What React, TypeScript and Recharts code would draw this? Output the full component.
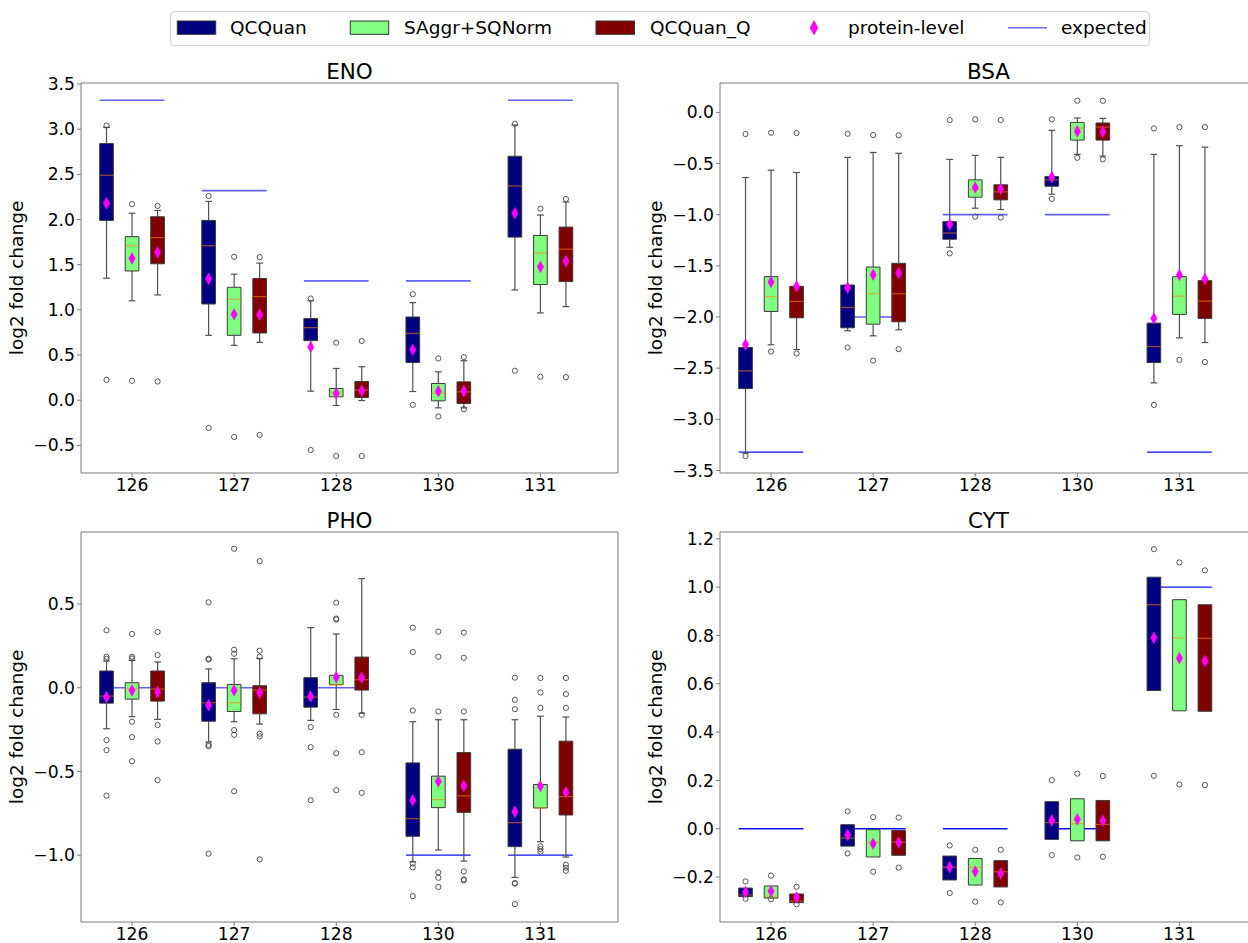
import React from 'react';
import { ComposedChart, XAxis, YAxis, ReferenceArea, ReferenceLine, Scatter } from 'recharts';

const FONT = '"DejaVu Sans", "Liberation Sans", sans-serif';

// ---------- shared categories / series ----------
const CATEGORIES = ['126', '127', '128', '130', '131'];
const CATEGORY_POS = [1, 2, 3, 4, 5];
const SERIES_NAMES = ['QCQuan', 'SAggr+SQNorm', 'QCQuan_Q'];
const SERIES_COLORS = ['#000080', '#80ff80', '#800000'];
const SERIES_OFFSETS = [-0.25, 0, 0.25];
const MEAN_LABEL = 'protein-level';
const EXPECTED_LABEL = 'expected';
const Y_LABEL = 'log2 fold change';

// box tuples: [whiskerLow, q1, median, q3, whiskerHigh] per category
// ---------- ENO ----------
const ENO_QCQUAN_BOX = [
  [1.35, 1.99, 2.49, 2.84, 3.02],
  [0.718, 1.065, 1.71, 1.99, 2.2],
  [0.1, 0.659, 0.803, 0.903, 1.1],
  [0.096, 0.418, 0.74, 0.921, 1.08],
  [1.22, 1.805, 2.37, 2.7, 3.045],
];
const ENO_SAGGR_BOX = [
  [1.1, 1.43, 1.71, 1.81, 2.07],
  [0.607, 0.718, 1.117, 1.25, 1.395],
  [-0.059, 0.037, 0.089, 0.13, 0.351],
  [-0.085, -0.007, 0.074, 0.185, 0.314],
  [0.966, 1.28, 1.628, 1.824, 2.05],
];
const ENO_QCQUANQ_BOX = [
  [1.165, 1.51, 1.8, 2.03, 2.1],
  [0.64, 0.744, 1.147, 1.347, 1.517],
  [-0.004, 0.03, 0.111, 0.207, 0.37],
  [-0.085, -0.037, 0.092, 0.203, 0.437],
  [1.036, 1.313, 1.672, 1.916, 2.194],
];
const ENO_QCQUAN_OUT = [[3.04, 0.226], [2.26, -0.307], [1.125, -0.551], [1.173, -0.052], [3.06, 0.326]];
const ENO_SAGGR_OUT = [[2.17, 0.215], [1.587, -0.407], [0.636, -0.618], [0.462, -0.181], [2.12, 0.259]];
const ENO_QCQUANQ_OUT = [[2.15, 0.207], [1.583, -0.385], [0.655, -0.618], [0.477, -0.1], [2.227, 0.255]];
const ENO_QCQUAN_MEAN = [2.18, 1.343, 0.588, 0.559, 2.07];
const ENO_SAGGR_MEAN = [1.57, 0.951, 0.074, 0.1, 1.476];
const ENO_QCQUANQ_MEAN = [1.635, 0.947, 0.104, 0.1, 1.539];
const ENO_EXPECTED = [3.32, 2.32, 1.32, 1.32, 3.32];
const ENO_Y_TICKS = [-0.5, 0, 0.5, 1, 1.5, 2, 2.5, 3, 3.5];

// ---------- BSA ----------
const BSA_QCQUAN_BOX = [
  [-3.33, -2.7, -2.527, -2.298, -0.637],
  [-2.135, -2.106, -1.907, -1.688, -0.44],
  [-1.319, -1.24, -1.179, -1.068, -0.46],
  [-0.8, -0.722, -0.66, -0.627, -0.176],
  [-2.644, -2.445, -2.289, -2.06, -0.411],
];
const BSA_SAGGR_BOX = [
  [-2.272, -1.946, -1.8, -1.606, -0.565],
  [-2.184, -2.07, -1.773, -1.512, -0.392],
  [-0.937, -0.829, -0.754, -0.66, -0.421],
  [-0.411, -0.271, -0.153, -0.098, -0.055],
  [-2.204, -1.975, -1.796, -1.606, -0.326],
];
const BSA_QCQUANQ_BOX = [
  [-2.318, -2.008, -1.848, -1.7, -0.588],
  [-2.125, -2.047, -1.773, -1.476, -0.4],
  [-0.95, -0.855, -0.777, -0.708, -0.44],
  [-0.428, -0.271, -0.144, -0.104, -0.059],
  [-2.25, -2.014, -1.845, -1.645, -0.34],
];
const BSA_QCQUAN_OUT = [[-0.212, -3.36], [-0.209, -2.298], [-0.075, -1.378], [-0.069, -0.846], [-0.157, -2.86]];
const BSA_SAGGR_OUT = [[-0.199, -2.338], [-0.222, -2.426], [-0.069, -1.019], [0.114, -0.444], [-0.144, -2.42]];
const BSA_QCQUANQ_OUT = [[-0.202, -2.357], [-0.225, -2.315], [-0.075, -1.028], [0.114, -0.46], [-0.144, -2.44]];
const BSA_QCQUAN_MEAN = [-2.27, -1.714, -1.094, -0.633, -2.014];
const BSA_SAGGR_MEAN = [-1.658, -1.587, -0.735, -0.186, -1.59];
const BSA_QCQUANQ_MEAN = [-1.7, -1.57, -0.748, -0.189, -1.629];
const BSA_EXPECTED = [-3.32, -2.0, -1.0, -1.0, -3.32];
const BSA_Y_TICKS = [-3.5, -3, -2.5, -2, -1.5, -1, -0.5, 0];

// ---------- PHO ----------
const PHO_QCQUAN_BOX = [
  [-0.245, -0.092, -0.05, 0.1, 0.16],
  [-0.323, -0.2, -0.09, 0.03, 0.112],
  [-0.195, -0.116, -0.056, 0.06, 0.359],
  [-1.04, -0.887, -0.782, -0.449, -0.203],
  [-1.133, -0.949, -0.806, -0.367, -0.191],
];
const PHO_SAGGR_BOX = [
  [-0.173, -0.068, -0.004, 0.03, 0.163],
  [-0.203, -0.142, -0.09, 0.02, 0.173],
  [-0.13, 0.018, 0.018, 0.074, 0.321],
  [-0.969, -0.716, -0.668, -0.528, -0.191],
  [-0.919, -0.718, -0.718, -0.578, -0.17],
];
const PHO_QCQUANQ_BOX = [
  [-0.189, -0.08, -0.008, 0.1, 0.154],
  [-0.217, -0.156, -0.014, 0.012, 0.175],
  [-0.152, -0.014, 0.048, 0.183, 0.652],
  [-1.035, -0.744, -0.646, -0.387, -0.191],
  [-1.011, -0.76, -0.65, -0.319, -0.175],
];
const PHO_QCQUAN_OUT = [
  [0.185, 0.173, 0.343, -0.313, -0.373, -0.644],
  [0.173, 0.168, 0.51, -0.341, -0.349, -0.991],
  [-0.235, -0.355, -0.672],
  [-0.136, 0.213, 0.359, -1.05, -1.073, -1.244],
  [-0.128, -0.072, 0.06, -1.166, -1.17, -1.292],
];
const PHO_SAGGR_OUT = [
  [0.185, 0.175, 0.321, -0.203, -0.295, -0.439],
  [0.227, 0.203, 0.83, -0.253, -0.281, -0.618],
  [0.413, 0.407, 0.508, -0.162, -0.391, -0.612],
  [-0.142, 0.185, 0.335, -1.103, -1.135, -1.19],
  [-0.12, -0.028, 0.058, -0.947, -0.963, -0.979],
];
const PHO_QCQUANQ_OUT = [
  [0.195, 0.333, -0.223, -0.321, -0.552],
  [0.221, 0.185, 0.756, -0.275, -0.291, -1.025],
  [-0.162, -0.385, -0.628],
  [-0.142, 0.179, 0.329, -1.097, -1.145, -1.15],
  [-0.12, -0.038, 0.058, -1.057, -1.075, -1.093],
];
const PHO_QCQUAN_MEAN = [-0.056, -0.104, -0.052, -0.672, -0.74];
const PHO_SAGGR_MEAN = [-0.016, -0.016, 0.062, -0.56, -0.588];
const PHO_QCQUANQ_MEAN = [-0.026, -0.03, 0.06, -0.586, -0.624];
const PHO_EXPECTED = [0, 0, 0, -1, -1];
const PHO_Y_TICKS = [-1, -0.5, 0, 0.5];

// ---------- CYT ----------
const CYT_QCQUAN_BOX = [
  [-0.281, -0.281, -0.274, -0.2455, -0.2455],
  [-0.072, -0.072, -0.039, 0.0166, 0.0166],
  [-0.212, -0.212, -0.159, -0.113, -0.113],
  [-0.044, -0.044, 0.025, 0.112, 0.112],
  [0.572, 0.572, 0.927, 1.041, 1.041],
];
const CYT_SAGGR_BOX = [
  [-0.287, -0.287, -0.279, -0.237, -0.237],
  [-0.117, -0.117, -0.055, -0.004, -0.004],
  [-0.233, -0.233, -0.16, -0.123, -0.123],
  [-0.05, -0.05, 0.021, 0.124, 0.124],
  [0.488, 0.488, 0.79, 0.948, 0.948],
];
const CYT_QCQUANQ_BOX = [
  [-0.306, -0.306, -0.299, -0.27, -0.27],
  [-0.11, -0.11, -0.055, -0.007, -0.007],
  [-0.241, -0.241, -0.178, -0.132, -0.132],
  [-0.05, -0.05, 0.018, 0.117, 0.117],
  [0.486, 0.486, 0.788, 0.927, 0.927],
];
const CYT_QCQUAN_OUT = [[-0.218, -0.29], [0.072, -0.102], [-0.069, -0.266], [0.201, -0.109], [1.157, 0.219]];
const CYT_SAGGR_OUT = [[-0.194, -0.292], [0.048, -0.178], [-0.087, -0.302], [0.228, -0.119], [1.102, 0.183]];
const CYT_QCQUANQ_OUT = [[-0.24, -0.313], [0.046, -0.161], [-0.087, -0.305], [0.218, -0.116], [1.069, 0.181]];
const CYT_QCQUAN_MEAN = [-0.262, -0.025, -0.159, 0.034, 0.79];
const CYT_SAGGR_MEAN = [-0.259, -0.062, -0.177, 0.039, 0.706];
const CYT_QCQUANQ_MEAN = [-0.284, -0.057, -0.185, 0.033, 0.694];
const CYT_EXPECTED = [0, 0, 0, 0, 1];
const CYT_Y_TICKS = [-0.2, 0, 0.2, 0.4, 0.6, 0.8, 1.0, 1.2];

// ---------- styles / layout ----------
const EXP_LIGHT = { stroke: '#6262ff', width: 1.7 };
const EXP_DARK = { stroke: '#1010f0', width: 1.3 };
const ENO_EXP_STYLE = [EXP_LIGHT, EXP_LIGHT, EXP_LIGHT, EXP_LIGHT, EXP_LIGHT];
const BSA_EXP_STYLE = [EXP_DARK, EXP_LIGHT, EXP_LIGHT, EXP_LIGHT, EXP_DARK];
const PHO_EXP_STYLE = [EXP_LIGHT, EXP_LIGHT, EXP_LIGHT, EXP_DARK, EXP_DARK];
const CYT_EXP_STYLE = [EXP_DARK, EXP_DARK, EXP_DARK, EXP_DARK, EXP_DARK];

const X_DOMAIN = [0.5, 5.76];
const BOX_HALF = 0.067;
const CAP_HALF = 0.033;
const EXP_HALF = 0.317;
const Y_AXIS_W = 81;
const PLOT_W = 537;
const PLOT_H = 390;
const M_TOP = 83;
const M_RIGHT = 10;
const X_AXIS_H = 40;
const CHART_W = Y_AXIS_W + PLOT_W + M_RIGHT;
const CHART_H = M_TOP + PLOT_H + X_AXIS_H;
const COL_LEFT = [0, 639];
const ROW_TOP = [0, 449];
const TICK_FONT = 17.2;
const WHISKER_COLOR = '#505050';
const FRAME_COLOR = '#7a7a7a';

const PANELS = [
  {
    title: 'ENO', yDomain: [-0.806, 3.511], yTicks: ENO_Y_TICKS, left: COL_LEFT[0], top: ROW_TOP[0],
    boxes: [ENO_QCQUAN_BOX, ENO_SAGGR_BOX, ENO_QCQUANQ_BOX],
    outliers: [ENO_QCQUAN_OUT, ENO_SAGGR_OUT, ENO_QCQUANQ_OUT],
    means: [ENO_QCQUAN_MEAN, ENO_SAGGR_MEAN, ENO_QCQUANQ_MEAN],
    expected: ENO_EXPECTED, expStyle: ENO_EXP_STYLE,
  },
  {
    title: 'BSA', yDomain: [-3.525, 0.287], yTicks: BSA_Y_TICKS, left: COL_LEFT[1], top: ROW_TOP[0],
    boxes: [BSA_QCQUAN_BOX, BSA_SAGGR_BOX, BSA_QCQUANQ_BOX],
    outliers: [BSA_QCQUAN_OUT, BSA_SAGGR_OUT, BSA_QCQUANQ_OUT],
    means: [BSA_QCQUAN_MEAN, BSA_SAGGR_MEAN, BSA_QCQUANQ_MEAN],
    expected: BSA_EXPECTED, expStyle: BSA_EXP_STYLE,
  },
  {
    title: 'PHO', yDomain: [-1.399, 0.93], yTicks: PHO_Y_TICKS, left: COL_LEFT[0], top: ROW_TOP[1],
    boxes: [PHO_QCQUAN_BOX, PHO_SAGGR_BOX, PHO_QCQUANQ_BOX],
    outliers: [PHO_QCQUAN_OUT, PHO_SAGGR_OUT, PHO_QCQUANQ_OUT],
    means: [PHO_QCQUAN_MEAN, PHO_SAGGR_MEAN, PHO_QCQUANQ_MEAN],
    expected: PHO_EXPECTED, expStyle: PHO_EXP_STYLE,
  },
  {
    title: 'CYT', yDomain: [-0.386, 1.228], yTicks: CYT_Y_TICKS, left: COL_LEFT[1], top: ROW_TOP[1],
    boxes: [CYT_QCQUAN_BOX, CYT_SAGGR_BOX, CYT_QCQUANQ_BOX],
    outliers: [CYT_QCQUAN_OUT, CYT_SAGGR_OUT, CYT_QCQUANQ_OUT],
    means: [CYT_QCQUAN_MEAN, CYT_SAGGR_MEAN, CYT_QCQUANQ_MEAN],
    expected: CYT_EXPECTED, expStyle: CYT_EXP_STYLE,
  },
];

const fmtTick = (v: number) => (v < 0 ? '\u2212' : '') + Math.abs(v).toFixed(1);

const OutlierShape = (props: any) => {
  const { cx, cy } = props;
  if (cx == null || cy == null) return null;
  return <circle cx={cx} cy={cy} r={2.6} fill="none" stroke="#444" strokeWidth={0.9} />;
};

const MeanShape = (props: any) => {
  const { cx, cy } = props;
  if (cx == null || cy == null) return null;
  const w = 3.2;
  const h = 5.8;
  return (
    <polygon
      points={`${cx},${cy - h} ${cx + w},${cy} ${cx},${cy + h} ${cx - w},${cy}`}
      fill="#ff00ff"
      stroke="#ff00ff"
      strokeWidth={0.5}
    />
  );
};

function Panel({ panel }: { panel: any }) {
  const items: any[] = [];
  panel.boxes.forEach((seriesBoxes: number[][], s: number) => {
    seriesBoxes.forEach((b: number[], c: number) => {
      items.push({
        key: `${s}-${c}`,
        x: CATEGORY_POS[c] + SERIES_OFFSETS[s],
        low: b[0], q1: b[1], med: b[2], q3: b[3], high: b[4],
        color: SERIES_COLORS[s],
      });
    });
  });
  const outlierPts: any[] = [];
  panel.outliers.forEach((so: number[][], s: number) => {
    so.forEach((list: number[], c: number) => {
      list.forEach((v: number) => outlierPts.push({ x: CATEGORY_POS[c] + SERIES_OFFSETS[s], y: v }));
    });
  });
  const meanPts: any[] = [];
  panel.means.forEach((sm: number[], s: number) => {
    sm.forEach((v: number, c: number) => meanPts.push({ x: CATEGORY_POS[c] + SERIES_OFFSETS[s], y: v }));
  });

  return (
    <div style={{ position: 'absolute', left: panel.left, top: panel.top, width: CHART_W, height: CHART_H }}>
      <ComposedChart width={CHART_W} height={CHART_H} margin={{ top: M_TOP, right: M_RIGHT, bottom: 0, left: 0 }}>
        <XAxis
          type="number"
          dataKey="x"
          domain={X_DOMAIN}
          allowDataOverflow
          ticks={CATEGORY_POS}
          interval={0}
          tickFormatter={(v: number) => CATEGORIES[CATEGORY_POS.indexOf(v)]}
          height={X_AXIS_H}
          axisLine={false}
          tickSize={4}
          tickMargin={2}
          tickLine={{ stroke: FRAME_COLOR }}
          tick={{ fontSize: TICK_FONT, fill: '#000', fontFamily: FONT }}
        />
        <YAxis
          type="number"
          dataKey="y"
          domain={panel.yDomain}
          allowDataOverflow
          ticks={panel.yTicks}
          interval={0}
          tickFormatter={fmtTick}
          width={Y_AXIS_W}
          axisLine={false}
          tickSize={4}
          tickMargin={2}
          tickLine={{ stroke: FRAME_COLOR }}
          tick={{ fontSize: TICK_FONT, fill: '#000', fontFamily: FONT }}
        />
        {panel.expected.map((e: number, c: number) => (
          <ReferenceLine
            key={'exp' + c}
            segment={[{ x: CATEGORY_POS[c] - EXP_HALF, y: e }, { x: CATEGORY_POS[c] + EXP_HALF, y: e }]}
            stroke={panel.expStyle[c].stroke}
            strokeWidth={panel.expStyle[c].width}
            zIndex={100}
          />
        ))}
        {items.map((it) =>
          it.low < it.q1 ? (
            <ReferenceLine key={'wl' + it.key} segment={[{ x: it.x, y: it.low }, { x: it.x, y: it.q1 }]} stroke={WHISKER_COLOR} strokeWidth={1.2} zIndex={110} />
          ) : null
        )}
        {items.map((it) =>
          it.high > it.q3 ? (
            <ReferenceLine key={'wh' + it.key} segment={[{ x: it.x, y: it.q3 }, { x: it.x, y: it.high }]} stroke={WHISKER_COLOR} strokeWidth={1.2} zIndex={110} />
          ) : null
        )}
        {items.map((it) =>
          it.low < it.q1 ? (
            <ReferenceLine key={'cl' + it.key} segment={[{ x: it.x - CAP_HALF, y: it.low }, { x: it.x + CAP_HALF, y: it.low }]} stroke={WHISKER_COLOR} strokeWidth={1.2} zIndex={110} />
          ) : null
        )}
        {items.map((it) =>
          it.high > it.q3 ? (
            <ReferenceLine key={'ch' + it.key} segment={[{ x: it.x - CAP_HALF, y: it.high }, { x: it.x + CAP_HALF, y: it.high }]} stroke={WHISKER_COLOR} strokeWidth={1.2} zIndex={110} />
          ) : null
        )}
        {items.map((it) => (
          <ReferenceArea
            key={'box' + it.key}
            x1={it.x - BOX_HALF}
            x2={it.x + BOX_HALF}
            y1={it.q1}
            y2={it.q3}
            fill={it.color}
            fillOpacity={1}
            stroke="#3a3a3a"
            strokeWidth={1}
            zIndex={120}
          />
        ))}
        {items.map((it) => (
          <ReferenceLine
            key={'med' + it.key}
            segment={[{ x: it.x - BOX_HALF, y: it.med }, { x: it.x + BOX_HALF, y: it.med }]}
            stroke="#ff7f0e"
            strokeOpacity={0.6}
            strokeWidth={1.2}
            zIndex={130}
          />
        ))}
        <ReferenceArea
          x1={X_DOMAIN[0]}
          x2={X_DOMAIN[1]}
          y1={panel.yDomain[0]}
          y2={panel.yDomain[1]}
          fill="none"
          fillOpacity={0}
          stroke={FRAME_COLOR}
          strokeWidth={1}
          zIndex={140}
        />
        <Scatter data={outlierPts} isAnimationActive={false} shape={OutlierShape} zIndex={600} />
        <Scatter data={meanPts} isAnimationActive={false} shape={MeanShape} zIndex={610} />
      </ComposedChart>
    </div>
  );
}

function Overlay() {
  const patchX = [177.3, 350.3, 596];
  const textX = [230, 404, 650];
  return (
    <svg width={1248} height={943} style={{ position: 'absolute', left: 0, top: 0, pointerEvents: 'none' }}>
      <rect x={170.5} y={11.5} width={979} height={34} rx={4} ry={4} fill="#fff" stroke="#d3d3d3" strokeWidth={1} />
      {SERIES_NAMES.map((name, i) => (
        <g key={name}>
          <rect x={patchX[i]} y={21} width={38.4} height={13.3} fill={SERIES_COLORS[i]} stroke="#333" strokeWidth={1} />
          <text x={textX[i]} y={34.3} fontSize={18.5} fontFamily={FONT} fill="#000">{name}</text>
        </g>
      ))}
      <polygon points="814,20.5 818,27.7 814,34.9 810,27.7" fill="#ff00ff" stroke="#ff00ff" strokeWidth={0.5} />
      <text x={848} y={34.3} fontSize={18.5} fontFamily={FONT} fill="#000">{MEAN_LABEL}</text>
      <line x1={1008} y1={27.7} x2={1047} y2={27.7} stroke="#6b6bff" strokeWidth={1.5} />
      <text x={1061} y={34.3} fontSize={18.5} fontFamily={FONT} fill="#000">{EXPECTED_LABEL}</text>
      {PANELS.map((p) => {
        const cx = p.left + Y_AXIS_W + PLOT_W / 2;
        const cy = p.top + M_TOP + PLOT_H / 2;
        const lx = p.left + 22.8;
        return (
          <g key={p.title}>
            <text x={cx} y={p.top + M_TOP - 3.7} fontSize={21.5} fontFamily={FONT} fill="#000" textAnchor="middle">{p.title}</text>
            <text x={lx} y={cy} fontSize={18.5} fontFamily={FONT} fill="#000" textAnchor="middle" transform={`rotate(-90 ${lx} ${cy})`}>{Y_LABEL}</text>
          </g>
        );
      })}
    </svg>
  );
}

export default function App() {
  return (
    <div style={{ position: 'absolute', left: 0, top: 0, width: 1248, height: 943, overflow: 'hidden', background: '#fff' }}>
      {PANELS.map((p) => (
        <Panel key={p.title} panel={p} />
      ))}
      <Overlay />
    </div>
  );
}
